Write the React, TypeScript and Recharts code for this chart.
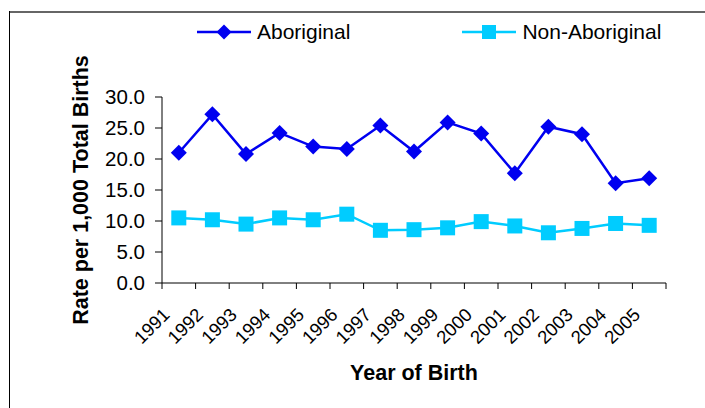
import React from "react";
import { LineChart, Line, XAxis, YAxis, Label } from "recharts";

const years = ["1991", "1992", "1993", "1994", "1995", "1996", "1997", "1998", "1999", "2000", "2001", "2002", "2003", "2004", "2005"];
const aboriginal = [21.0, 27.2, 20.8, 24.2, 22.0, 21.6, 25.4, 21.2, 25.9, 24.1, 17.7, 25.2, 24.0, 16.1, 16.9];
const nonAboriginal = [10.5, 10.2, 9.5, 10.5, 10.2, 11.1, 8.5, 8.6, 8.9, 9.9, 9.2, 8.1, 8.8, 9.6, 9.3];
const yTicks = [0, 5, 10, 15, 20, 25, 30];

const ABO = "#0000f0";
const NON = "#00ccff";
const FONT = "'Liberation Sans', Arial, sans-serif";
const FS = 21.5;

const data = years.map((year, i) => ({
    year,
    aboriginal: aboriginal[i],
    nonAboriginal: nonAboriginal[i],
}));

const Diamond = ({ cx, cy, fill, r = 8 }: any) => (
    <polygon points={`${cx},${cy - r} ${cx + r},${cy} ${cx},${cy + r} ${cx - r},${cy}`} fill={fill} />
);

const Square = ({ cx, cy, fill, s = 15 }: any) => (
    <rect x={cx - s / 2} y={cy - s / 2} width={s} height={s} fill={fill} />
);

const YearTick = ({ x, y, payload }: any) => {
    const half = payload.offset ?? 16.8;
    const isLast = payload.value === years[years.length - 1];
    const tx = x - 8;
    const ty = y + 33;
    return (
        <g>
            <line x1={x - half} x2={x - half} y1={y} y2={y + 6} stroke="#000" />
            {isLast && <line x1={x + half} x2={x + half} y1={y} y2={y + 6} stroke="#000" />}
            <text
                x={tx}
                y={ty}
                transform={`rotate(-45, ${tx}, ${ty})`}
                textAnchor="end"
                fontSize={18.5}
                fontFamily={FONT}
                fill="#000"
            >
                {payload.value}
            </text>
        </g>
    );
};

const LegendItem = ({ color, label, marker }: { color: string; label: string; marker: "diamond" | "square" }) => (
    <div style={{ display: "flex", alignItems: "center" }}>
        <svg width={54} height={18}>
            <line x1={0} x2={54} y1={9} y2={9} stroke={color} strokeWidth={2.5} />
            {marker === "diamond" ? <Diamond cx={27} cy={9} fill={color} r={7.5} /> : <Square cx={27} cy={9} fill={color} s={14} />}
        </svg>
        <span style={{ marginLeft: 6, fontSize: 21, lineHeight: "24px" }}>{label}</span>
    </div>
);

export default function App() {
    return (
        <div style={{ position: "absolute", left: 0, top: 0, width: 705, height: 408, background: "#fff", fontFamily: FONT, overflow: "hidden" }}>
            <div style={{ position: "absolute", left: 9, top: 11, right: 0, height: 0, borderTop: "2px solid #666" }} />
            <div style={{ position: "absolute", left: 9, top: 11, bottom: 0, width: 0, borderLeft: "1px solid #000" }} />
            <div style={{ position: "absolute", left: 197, top: 20, display: "flex", gap: 112 }}>
                <LegendItem color={ABO} label="Aboriginal" marker="diamond" />
                <LegendItem color={NON} label="Non-Aboriginal" marker="square" />
            </div>
            <div style={{ position: "absolute", left: 0, top: 0 }}>
                <LineChart width={705} height={408} data={data} margin={{ top: 97, right: 39, bottom: 0, left: 0 }}>
                    <XAxis
                        dataKey="year"
                        scale="band"
                        interval={0}
                        height={125}
                        tickLine={false}
                        tickSize={0}
                        tickMargin={0}
                        axisLine={{ stroke: "#000" }}
                        tick={<YearTick />}
                    >
                        <Label
                            value="Year of Birth"
                            position="insideBottom"
                            offset={28}
                            style={{ fontSize: FS, fontWeight: "bold", fontFamily: FONT, fill: "#000" }}
                        />
                    </XAxis>
                    <YAxis
                        type="number"
                        domain={[0, 30]}
                        ticks={yTicks}
                        width={162}
                        tickSize={7}
                        tickMargin={10}
                        tickFormatter={(v) => v.toFixed(1)}
                        axisLine={{ stroke: "#000" }}
                        tickLine={{ stroke: "#000" }}
                        tick={{ fill: "#000", fontSize: 20.5, fontFamily: FONT }}
                    >
                        <Label
                            value="Rate per 1,000 Total Births"
                            angle={-90}
                            position="center"
                            dx={-1}
                            style={{ fontSize: FS, fontWeight: "bold", fontFamily: FONT, fill: "#000", textAnchor: "middle" }}
                        />
                    </YAxis>
                    <Line
                        dataKey="aboriginal"
                        stroke={ABO}
                        strokeWidth={2.5}
                        isAnimationActive={false}
                        dot={(p: any) => <Diamond key={`a-${p.index}`} cx={p.cx} cy={p.cy} fill={ABO} />}
                        activeDot={false}
                    />
                    <Line
                        dataKey="nonAboriginal"
                        stroke={NON}
                        strokeWidth={2.5}
                        isAnimationActive={false}
                        dot={(p: any) => <Square key={`n-${p.index}`} cx={p.cx} cy={p.cy} fill={NON} />}
                        activeDot={false}
                    />
                </LineChart>
            </div>
        </div>
    );
}
